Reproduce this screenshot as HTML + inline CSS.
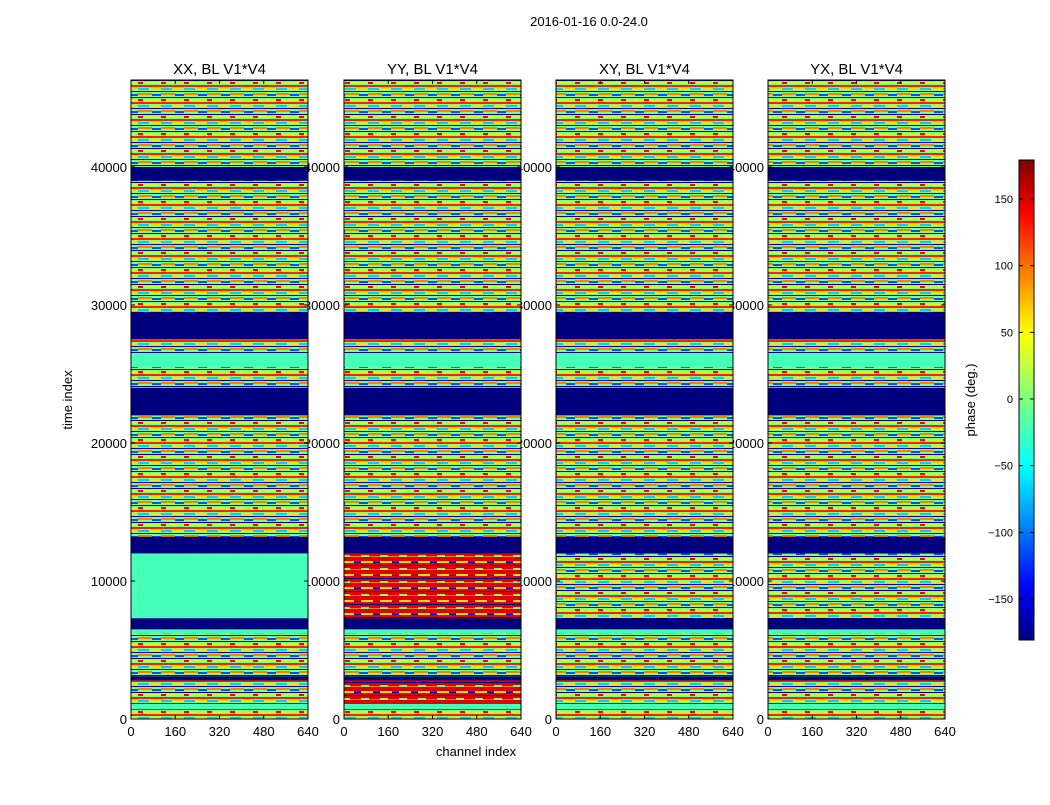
<!DOCTYPE html>
<html><head><meta charset="utf-8"><style>
body{margin:0;background:#fff;font-family:"Liberation Sans",sans-serif}
svg text{font-family:"Liberation Sans",sans-serif}
</style></head><body>
<svg id="c" width="1050" height="800" xmlns="http://www.w3.org/2000/svg">
<defs>
<linearGradient id="jet" x1="0" y1="1" x2="0" y2="0">
<stop offset="0" stop-color="#00007f"/><stop offset="0.11" stop-color="#0000ff"/><stop offset="0.36" stop-color="#00ffff"/><stop offset="0.5" stop-color="#7fff7f"/><stop offset="0.64" stop-color="#ffff00"/><stop offset="0.89" stop-color="#ff0000"/><stop offset="1" stop-color="#7f0000"/>
</linearGradient>
<pattern id="noise" width="23" height="17" patternUnits="userSpaceOnUse">
<rect width="23" height="17" fill="#7fff7f"/>
<rect y="0" width="23" height="2" fill="#ff2000"/><rect y="3" width="11" height="2" fill="#00d0ff"/><rect x="11" y="3" width="12" height="2" fill="#ffe000"/>
<rect y="6" width="23" height="1" fill="#0000c0"/><rect y="8" width="14" height="2" fill="#ff8000"/><rect x="14" y="9" width="9" height="2" fill="#0050ff"/>
<rect y="12" width="23" height="1" fill="#00007f"/><rect x="5" y="14" width="18" height="2" fill="#c0ff30"/><rect y="14" width="5" height="2" fill="#ff0000"/>
</pattern>
<pattern id="rednoise" width="19" height="13" patternUnits="userSpaceOnUse">
<rect width="19" height="13" fill="#e00000"/>
<rect y="2" width="12" height="2" fill="#ffe000"/><rect x="12" y="3" width="7" height="1" fill="#0000c0"/>
<rect y="6" width="19" height="1" fill="#00007f"/><rect y="9" width="8" height="2" fill="#7fff7f"/><rect x="8" y="10" width="11" height="1" fill="#ff8000"/>
</pattern>
</defs>
<text x="589" y="26" font-size="13" text-anchor="middle">2016-01-16 0.0-24.0</text>
<g id="labels"></g>
<g id="plots"></g>
<text x="476" y="756" font-size="13" text-anchor="middle">channel index</text>
<text transform="translate(72,400) rotate(-90)" font-size="13" text-anchor="middle">time index</text>
<g id="cbar"></g>
</svg>
<script>
const titles=["XX, BL V1*V4","YY, BL V1*V4","XY, BL V1*V4","YX, BL V1*V4"];
const bandStarts=[0,700,1100,2800,3100,6200,6500,7300,12000,13200,19500,22000,24000,25500,26500,27500,29500,39000,40000];
const bandEnds=[700,1100,2800,3100,6200,6500,7300,12000,13200,19500,22000,24000,25500,26500,27500,29500,39000,40000,46300];
// phase values per band (null = noisy/mixed, 'r' = red-dominated noisy)
const xxVals=[null,-20,null,-180,null,-20,-180,-20,-180,null,null,-180,null,-20,null,-180,null,-180,null];
const yyVals=[null,-20,'r',-180,null,-20,-180,'r',-180,null,null,-180,null,-20,null,-180,null,-180,null];
const xyVals=[null,-20,null,-180,null,-20,-180,null,-180,null,null,-180,null,-20,null,-180,null,-180,null];
const yxVals=[null,-20,null,-180,null,-20,-180,null,-180,null,null,-180,null,-20,null,-180,null,-180,null];
const panelVals=[xxVals,yyVals,xyVals,yxVals];
const xTicks=[0,160,320,480,640];
const yTicks=[0,10000,20000,30000,40000];
const cbTicks=[-150,-100,-50,0,50,100,150];
const panelX=[131,344,556,768], PW=177, PT=80, PB=719, TMAX=46300;
const ys=t=>PB-(PB-PT)*t/TMAX;
function jet(v){const f=(v+180)/360;
 const r=Math.max(0,Math.min(1,1.5-Math.abs(4*f-3))),g=Math.max(0,Math.min(1,1.5-Math.abs(4*f-2))),b=Math.max(0,Math.min(1,1.5-Math.abs(4*f-1)));
 return `rgb(${r*255|0},${g*255|0},${b*255|0})`;}
const NS="http://www.w3.org/2000/svg";
function mk(tag,attrs,parent){const e=document.createElementNS(NS,tag);for(const k in attrs)e.setAttribute(k,attrs[k]);parent.appendChild(e);return e;}
const plots=document.getElementById('plots'), labels=document.getElementById('labels');
panelX.forEach((x0,p)=>{
 xTicks.forEach(t=>{const x=x0+PW*t/640;
  const tx=mk('text',{x:x,y:PB+17,'font-size':13,'text-anchor':'middle'},labels);tx.textContent=t;
  });
 yTicks.forEach(t=>{const y=ys(t);
  const tx=mk('text',{x:x0-4,y:y+5,'font-size':13,'text-anchor':'end'},labels);tx.textContent=t;
  });
 const g=mk('g',{},plots);
 
 
 mk('rect',{x:x0,y:PT,width:PW,height:PB-PT,fill:'url(#noise)'},g);
 panelVals[p].forEach((v,i)=>{
  if(v===null)return;
  const r=mk('rect',{x:x0,y:ys(bandEnds[i]),width:PW,height:ys(bandStarts[i])-ys(bandEnds[i]),fill:v==='r'?'url(#rednoise)':jet(v)},g);
  
  
 });
 mk('rect',{x:x0,y:PT,width:PW,height:PB-PT,fill:'none',stroke:'#000','stroke-width':1},g);
 xTicks.forEach(t=>{const x=x0+PW*t/640;
  mk('line',{x1:x,x2:x,y1:PB,y2:PB-4,stroke:'#000'},g);mk('line',{x1:x,x2:x,y1:PT,y2:PT+4,stroke:'#000'},g);});
 yTicks.forEach(t=>{const y=ys(t);
  mk('line',{x1:x0,x2:x0+4,y1:y,y2:y,stroke:'#000'},g);mk('line',{x1:x0+PW,x2:x0+PW-4,y1:y,y2:y,stroke:'#000'},g);});
 const tt=mk('text',{x:x0+PW/2,y:74,'font-size':15,'text-anchor':'middle'},g);tt.textContent=titles[p];
 
});
const cb=document.getElementById('cbar');
const cy=v=>399-v*400/300;
mk('rect',{x:1019,y:160,width:15,height:480,fill:'url(#jet)',stroke:'#000'},cb);
cbTicks.forEach(v=>{const y=cy(v);
 mk('line',{x1:1019,x2:1023,y1:y,y2:y,stroke:'#000'},cb);mk('line',{x1:1034,x2:1030,y1:y,y2:y,stroke:'#000'},cb);
 const t=mk('text',{x:1013,y:y+4,'font-size':11,'text-anchor':'end'},cb);t.textContent=(v<0?'\u2212'+(-v):v);
 });
const cl=mk('text',{transform:'translate(975,400) rotate(-90)','font-size':13,'text-anchor':'middle'},cb);cl.textContent='phase (deg.)';

</script>
</body></html>
